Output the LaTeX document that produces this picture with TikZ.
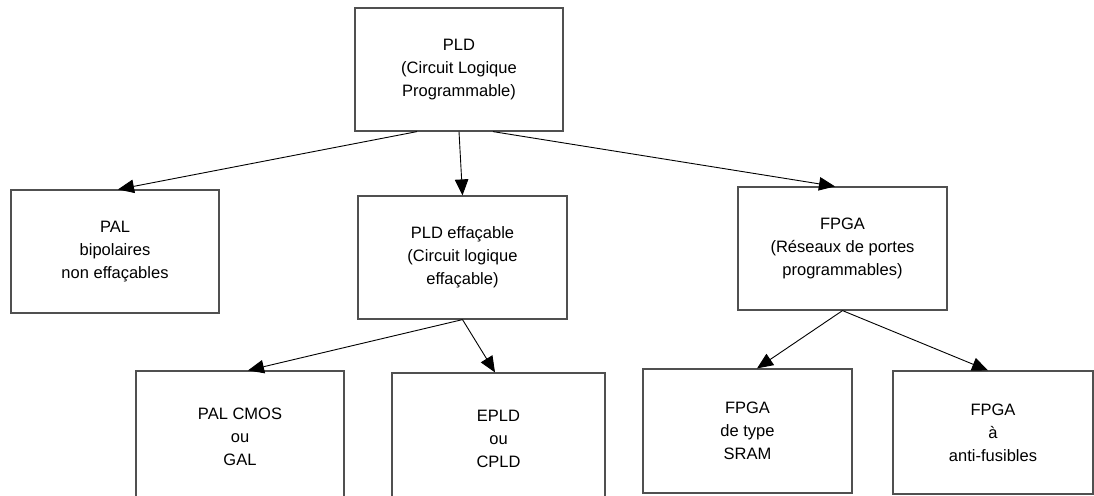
\documentclass[tikz,border=0pt]{standalone}
\usepackage{fontspec}
\setmainfont{Liberation Sans}
\usepackage{tikz}
\usetikzlibrary{arrows.meta,calc}
\definecolor{boxline}{RGB}{80,80,80}
\tikzset{
  famille/.style={rectangle,draw=boxline,line width=1.2pt,align=center,inner sep=0pt,minimum width=208pt,minimum height=123pt,font=\fontsize{16.5}{23}\selectfont},
  lien/.style={-{Triangle[length=16pt,width=13.5pt]},line width=0.9pt}
}

\begin{document}
\begin{tikzpicture}[x=1pt,y=-1pt]
  \useasboundingbox (0,0) rectangle (1094,495);
  \clip (0,0) rectangle (1094,495);
  \node[famille] (pld) at (459,69.5) {PLD\\(Circuit Logique\\Programmable)};
  \node[famille] (pal) at (115,251.5) {PAL\\bipolaires\\non effaçables};
  \node[famille,minimum width=209pt] (plde) at (462.5,257.5) {PLD effaçable\\(Circuit logique\\effaçable)};
  \node[famille,minimum width=209pt] (fpga) at (842.5,248.5) {FPGA\\(Réseaux de portes\\programmables)};
  \node[famille,minimum height=132pt] (palc) at (240,437) {PAL CMOS\\ou\\GAL};
  \node[famille,minimum width=213pt,minimum height=132pt] (epld) at (498.5,439) {EPLD\\ou\\CPLD};
  \node[famille,minimum width=209pt,minimum height=124pt] (sram) at (747.5,431) {FPGA\\de type\\SRAM};
  \node[famille,minimum width=200pt] (anti) at (993,432.5) {FPGA\\à\\anti-fusibles};
  \draw[lien] ([xshift=-42pt]pld.south) -- ([xshift=3pt]pal.north);
  \draw[lien] (pld.south) -- (plde.north);
  \draw[lien] ([xshift=34pt]pld.south) -- ([xshift=-7.5pt]fpga.north);
  \draw[lien] (plde.south) -- ([xshift=8pt]palc.north);
  \draw[lien] (plde.south) -- ([xshift=-3.5pt]epld.north);
  \draw[lien] (fpga.south) -- ([xshift=9.5pt]sram.north);
  \draw[lien] (fpga.south) -- ([xshift=-5pt]anti.north);
\end{tikzpicture}
\end{document}
